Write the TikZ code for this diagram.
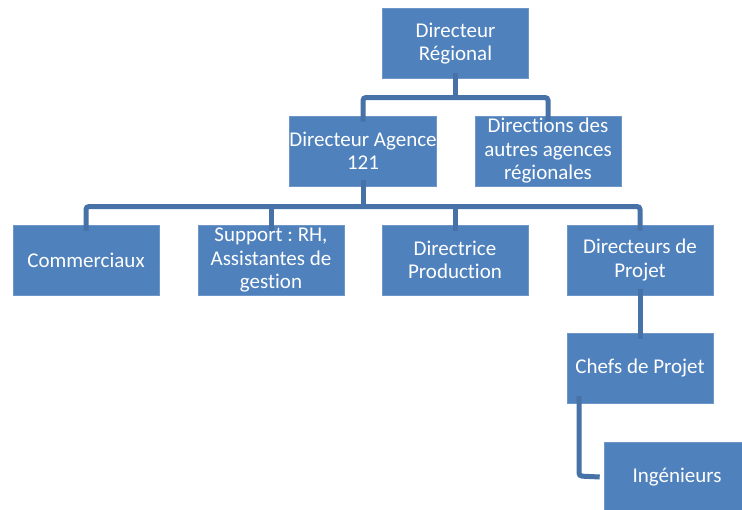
\documentclass[tikz,border=0pt]{standalone}
\usepackage{fontspec}
\setmainfont{Carlito}[Ligatures=NoCommon]
\frenchspacing
\definecolor{boxblue}{RGB}{79,129,189}
\definecolor{boxedge}{RGB}{110,150,200}
\definecolor{linkblue}{RGB}{70,114,168}
\begin{document}
\begin{tikzpicture}[x=1pt,y=-1pt,
  unit/.style={draw=boxedge,line width=0.6pt,fill=boxblue,text=white,
    minimum width=146pt,minimum height=70pt,inner sep=0pt,align=center,
    font=\fontsize{21}{23.5}\selectfont},
  link/.style={draw=linkblue,line width=5pt,rounded corners=3pt,line cap=butt}]
\useasboundingbox (0,0) rectangle (742,509);
\clip (0,0) rectangle (742,509);
\fill[white] (0,0) rectangle (742,509);

% boxes
\node[unit] (dr)  at (455.5,43.5)  {Directeur\\Régional};
\node[unit] (da)  at (363,151)   {Directeur Agence\\121};
\node[unit] (oth) at (548,151)   {Directions des\\autres agences\\régionales};
\node[unit] (com) at (86,260)    {Commerciaux};
\node[unit] (sup) at (271,260)   {Support : RH,\\Assistantes de\\gestion};
\node[unit] (prod) at (455,260)  {Directrice\\Production};
\node[unit] (dp)  at (640,260)   {Directeurs de\\Projet};
\node[unit] (cp)  at (640,368)   {Chefs de Projet};
\node[unit] (ing) at (677,477)   {Ingénieurs};

% junction points
\coordinate (j1) at (455.5,97.5);
\coordinate (j2) at (363,206.5);

% connectors, Directeur Régional level
\draw[link] ([yshift=6pt]dr.south) -- (j1);
\draw[link] ([yshift=-6pt]da.north) -- (da.north |- j1) -- (oth.north |- j1) -- ([yshift=-6pt]oth.north);

% connectors, agency level
\draw[link] ([yshift=6pt]da.south) -- (j2);
\draw[link] ([yshift=-6pt]com.north) -- (com.north |- j2) -- (dp.north |- j2) -- ([yshift=-6pt]dp.north);
\draw[link] ([yshift=-6pt]sup.north) -- (sup.north |- j2);
\draw[link] ([yshift=-6pt]prod.north) -- (prod.north |- j2);

% project chain
\draw[link] ([yshift=6pt]dp.south) -- ([yshift=-6pt]cp.north);
\coordinate (cpl) at (579,403);
\draw[link] ([yshift=7pt]cpl) -- (579,476) -- ([xshift=-4pt]ing.west);
\end{tikzpicture}
\end{document}
